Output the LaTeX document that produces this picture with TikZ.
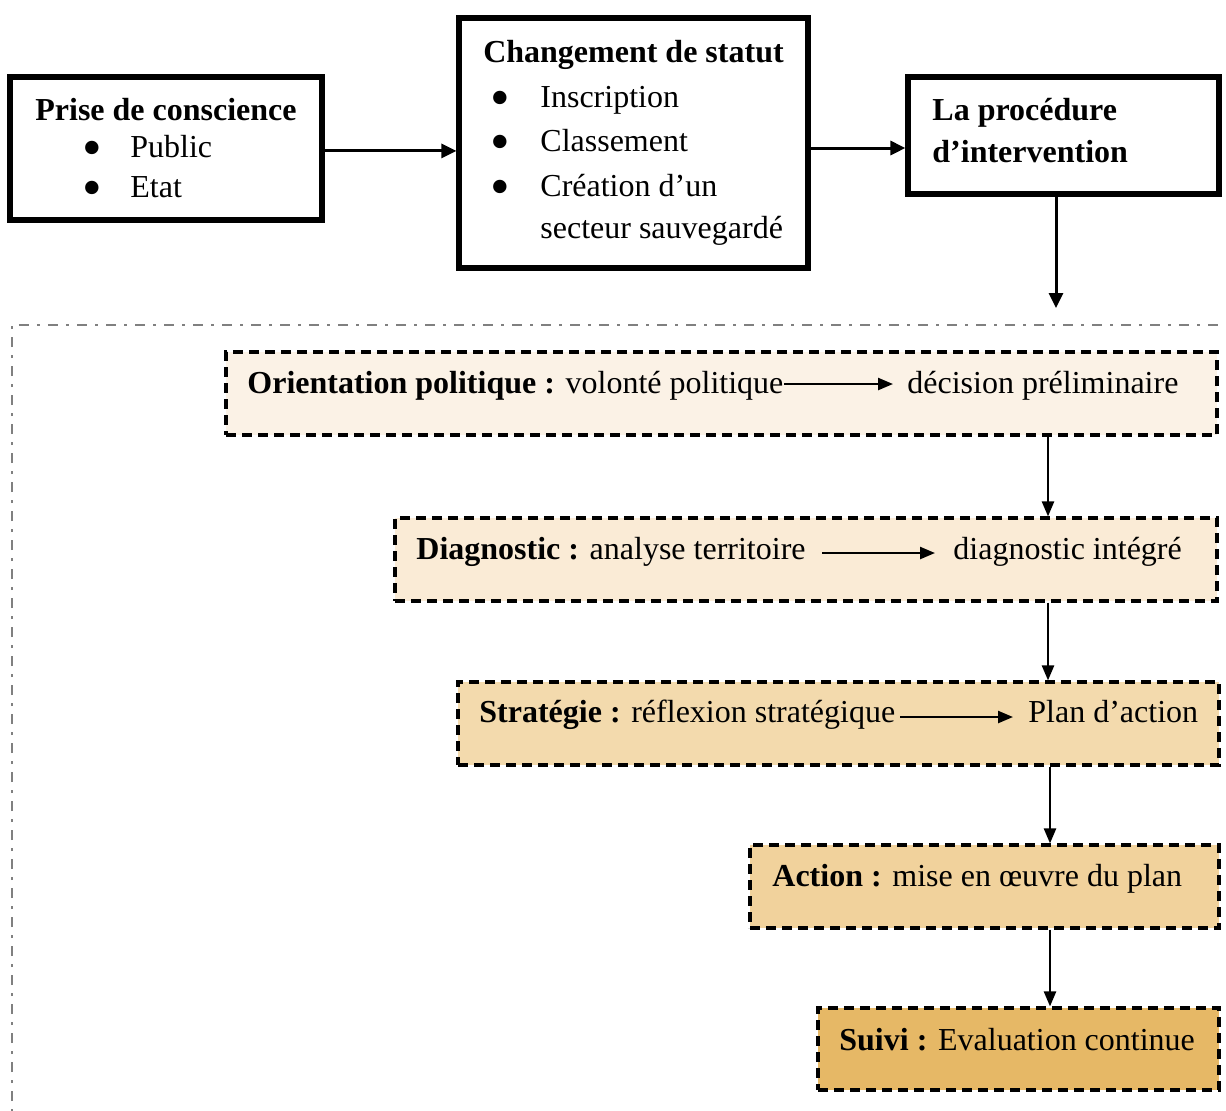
\documentclass[tikz,border=0pt]{standalone}
\usepackage{fontspec}
\setmainfont{Liberation Serif}
\usetikzlibrary{arrows.meta}
\definecolor{fO}{HTML}{FBF2E6}
\definecolor{fD}{HTML}{FAEBD6}
\definecolor{fS}{HTML}{F3DAAD}
\definecolor{fA}{HTML}{F1D29C}
\definecolor{fV}{HTML}{E6B866}
\definecolor{frame}{HTML}{808080}
\tikzset{
  solidbox/.style={draw=black, line width=2.6pt, rectangle, inner sep=0pt},
  dashbox/.style={draw=black, line width=1.6pt, dash pattern=on 5pt off 3pt, rectangle, inner sep=0pt},
  txt/.style={anchor=base west, inner sep=0pt, font=\fontsize{16}{19}\selectfont},
  bul/.style={anchor=base, inner sep=0pt, font=\fontsize{16}{19}\selectfont},
  dot/.style={anchor=center, inner sep=0pt, font=\fontsize{28}{28}\selectfont},
  arr/.style={line width=1.5pt, -{Triangle[length=7.5pt,width=7pt]}},
  thinarr/.style={line width=1.2pt, -{Triangle[length=7.5pt,width=6pt]}},
}
\begin{document}
\begin{tikzpicture}[x=0.5pt,y=-0.5pt]
\useasboundingbox (0,0) rectangle (1226,1110);
\begin{scope}
\clip (0,0) rectangle (1226,1110);
\draw[frame, line width=1.4pt, dash pattern=on 5pt off 4pt on 1.5pt off 4pt] (12,1130) -- (12,325) -- (1250,325);
\end{scope}
% top boxes
\node[solidbox, minimum width=156pt, minimum height=71.5pt] (b1) at (166,148.5) {};
\node[solidbox, minimum width=174.5pt, minimum height=125pt] (b2) at (633.5,143) {};
\node[solidbox, minimum width=155.5pt, minimum height=58.5pt] (b3) at (1063.5,135.5) {};
% box 1 text
\node[bul] (t1) at (166,120) {\textbf{Prise de conscience}};
\node[dot] (t1b1) at (92,154) {\textbullet};
\node[txt] (t1a) at (130,157) {Public};
\node[dot] (t1b2) at (92,194) {\textbullet};
\node[txt] (t1c) at (130,197) {Etat};
% box 2 text
\node[bul] (t2) at (633.5,62) {\textbf{Changement de statut}};
\node[dot] (t2b1) at (500,104) {\textbullet};
\node[txt] (t2a) at (540,107) {Inscription};
\node[dot] (t2b2) at (500,148) {\textbullet};
\node[txt] (t2c) at (540,151) {Classement};
\node[dot] (t2b3) at (500,193) {\textbullet};
\node[txt] (t2d) at (540,196) {Création d’un};
\node[txt] (t2e) at (540,238) {secteur sauvegardé};
% box 3 text
\node[txt] (t3a) at (932,120) {\textbf{La procédure}};
\node[txt] (t3b) at (932,162) {\textbf{d’intervention}};
% top connectors
\coordinate (c3) at (1056,308);
\draw[arr] ([yshift=-1.2pt]b1.east) -- ([yshift=-1.2pt]b1.east -| b2.west);
\draw[arr] ([yshift=-2.5pt]b2.east) -- ([yshift=-2.5pt]b2.east -| b3.west);
\draw[arr] (c3 |- b3.south) -- (c3);
% dashed boxes
\node[dashbox, fill=fO, minimum width=495.5pt, minimum height=41.5pt] (O) at (721.5,393.5) {};
\node[dashbox, fill=fD, minimum width=411pt, minimum height=41.5pt] (D) at (806,559.5) {};
\node[dashbox, fill=fS, minimum width=380.5pt, minimum height=41.5pt] (S) at (838.5,723.5) {};
\node[dashbox, fill=fA, minimum width=234.5pt, minimum height=41.5pt] (A) at (984.5,886.5) {};
\node[dashbox, fill=fV, minimum width=200.5pt, minimum height=41pt] (V) at (1018.5,1049) {};
% texts
\node[txt] (o1) at (247,393) {\textbf{Orientation politique :} volonté politique};
\node[txt] (o2) at (907,393) {décision préliminaire};
\node[txt] (d1) at (416,559) {\textbf{Diagnostic :} analyse territoire};
\node[txt] (d2) at (953,559) {diagnostic intégré};
\node[txt] (s1) at (479,722) {\textbf{Stratégie :} réflexion stratégique};
\node[txt] (s2) at (1028,722) {Plan d’action};
\node[txt] (a1) at (772,886) {\textbf{Action :} mise en œuvre du plan};
\node[txt] (v1) at (839,1050) {\textbf{Suivi :} Evaluation continue};
% inline arrows
\coordinate (oa) at (784,384);
\coordinate (ob) at (893,384);
\draw[thinarr] (oa) -- (ob);
\coordinate (da) at (822,553);
\coordinate (db) at (935,553);
\draw[thinarr] (da) -- (db);
\coordinate (sa) at (900,717);
\coordinate (sb) at (1013,717);
\draw[thinarr] (sa) -- (sb);
% vertical connectors
\coordinate (x1) at (1048,0);
\coordinate (x2) at (1050,0);
\draw[thinarr] (O.south -| x1) -- (D.north -| x1);
\draw[thinarr] (D.south -| x1) -- (S.north -| x1);
\draw[thinarr] (S.south -| x2) -- (A.north -| x2);
\draw[thinarr] (A.south -| x2) -- (V.north -| x2);
\end{tikzpicture}
\end{document}
